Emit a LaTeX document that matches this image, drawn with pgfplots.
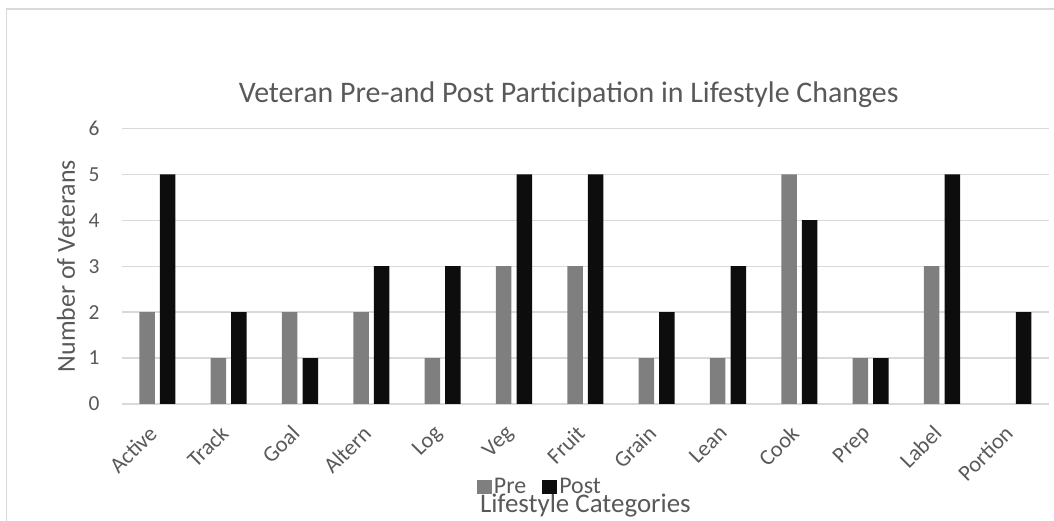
\documentclass[border=0pt]{standalone}
\usepackage{fontspec}
\setmainfont{Carlito}
\usepackage{pgfplots}
\pgfplotsset{compat=1.18}
\definecolor{txt}{HTML}{595959}
\definecolor{gridc}{HTML}{D9D9D9}
\definecolor{preC}{HTML}{7F7F7F}
\definecolor{postC}{HTML}{0D0D0D}
\begin{document}
\begin{tikzpicture}
\path[use as bounding box] (0,0) rectangle (1054bp,521bp);
\draw[gridc, line width=1.5bp] (6.5bp,0) -- (6.5bp,512bp) -- (1054bp,512bp);
\begin{axis}[
  at={(121.7bp,117bp)}, anchor=south west,
  scale only axis, width=927.3bp, height=275.7bp,
  xmin=-0.5, xmax=12.5, ymin=0, ymax=6,
  ybar=5.1bp, bar width=15.5bp,
  xtick={0,1,2,3,4,5,6,7,8,9,10,11,12},
  xticklabels={Active,Track,Goal,Altern,Log,Veg,Fruit,Grain,Lean,Cook,Prep,Label,Portion},
  ytick={0,1,2,3,4,5,6},
  ymajorgrids, grid style={draw=gridc, line width=1.3bp},
  axis line style={draw=none},
  major tick length=0pt,
  /pgf/number format/assume math mode=true,
  tick label style={font=\fontsize{21.5}{24}\selectfont, text=txt},
  x tick label style={xshift=-10bp, rotate=45, anchor=north east, inner sep=0pt, font=\fontsize{22.5}{25}\selectfont},
  xticklabel shift=20bp,
  y tick label style={anchor=east, inner sep=0pt, xshift=-22bp},
  title={Veteran Pre-and Post Participation in Lifestyle Changes},
  title style={at={(axis description cs:0.482,1.073)}, anchor=base, font=\fontsize{30}{34}\selectfont, text=txt},
  ylabel={Number of Veterans},
  ylabel style={at={(axis description cs:-0.060,0.5)}, anchor=center, rotate=0, font=\fontsize{26}{30}\selectfont, text=txt},
  xlabel={Lifestyle Categories},
  xlabel style={at={(axis description cs:0.5,-0.395)}, anchor=base, font=\fontsize{27}{30}\selectfont, text=txt},
  legend columns=2,
  legend style={at={(axis description cs:0.451,-0.301)}, anchor=center, draw=none, fill=none,
    font=\fontsize{24}{26}\selectfont, text=txt, inner sep=0pt,
    nodes={inner xsep=2bp, inner ysep=0pt},
    /tikz/every even column/.append style={column sep=14bp}},
  legend image code/.code={\path[#1, draw=none] (0bp,-7bp) rectangle (15bp,7bp);},
]
\addplot[fill=preC, draw=none] coordinates {(0,2) (1,1) (2,2) (3,2) (4,1) (5,3) (6,3) (7,1) (8,1) (9,5) (10,1) (11,3) (12,0)};
\addplot[fill=postC, draw=none] coordinates {(0,5) (1,2) (2,1) (3,3) (4,3) (5,5) (6,5) (7,2) (8,3) (9,4) (10,1) (11,5) (12,2)};
\legend{Pre,Post}
\end{axis}
\end{tikzpicture}
\end{document}
